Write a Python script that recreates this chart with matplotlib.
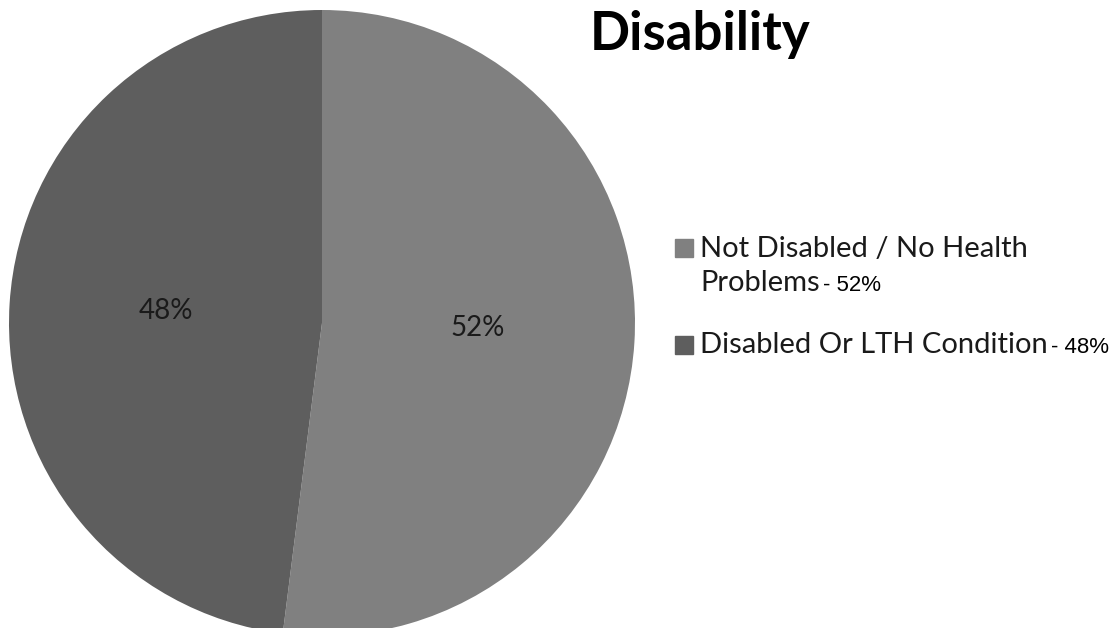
import matplotlib
matplotlib.use("Agg")
import matplotlib.pyplot as plt
from matplotlib.patches import Rectangle

# data
categories = ["Not Disabled / No Health\nProblems", "Disabled Or LTH Condition"]
shares = [52, 48]
colors = ["#808080", "#5e5e5e"]

W, H = 1118, 628
fig = plt.figure(figsize=(W / 100, H / 100), dpi=100)
fig.patch.set_facecolor("white")


def fx(px):
    return px / W


def fy(py):
    # py measured from the top of the image
    return 1 - py / H


# pie axes: centre (322, 323) px, radius 313 px
cx, cy, r = 322, 323, 313
ax = fig.add_axes([fx(cx - r), fy(cy + r), 2 * r / W, 2 * r / H])
ax.pie(shares, colors=colors, startangle=90, counterclock=False, radius=1,
       wedgeprops=dict(linewidth=0))
ax.set_xlim(-1, 1)
ax.set_ylim(-1, 1)
ax.set_aspect("equal")
ax.axis("off")

# percent labels inside the slices
label_pos = [(478, 328), (166, 311)]
for (px, py), v in zip(label_pos, shares):
    fig.text(fx(px), fy(py), f"{v}%", ha="center", va="center",
             fontsize=20, family="Lato", color="#1a1a1a")

# title
fig.text(fx(700), fy(50), "Disability", ha="center", va="baseline",
         fontsize=38, fontweight="bold", family="Lato", color="black")

# legend drawn by hand
sq_y = [239, 336]
base_y = [257, 353]
for name, v, c, sy, by in zip(categories, shares, colors, sq_y, base_y):
    fig.patches.append(Rectangle((fx(675), fy(sy + 18)), 18 / W, 18 / H,
                                 transform=fig.transFigure, color=c))
    lines = name.split("\n")
    for i, line in enumerate(lines):
        yb = by + i * 34
        t = fig.text(fx(700), fy(yb), line, ha="left", va="baseline",
                     fontsize=21, family="Lato", color="#1a1a1a")
    fig.canvas.draw()
    bb = t.get_window_extent()
    fig.text((bb.x1 + 3) / W, fy(by + (len(lines) - 1) * 34), f"- {v}%",
             ha="left", va="baseline", fontsize=16,
             family="Liberation Sans", color="black")

fig.savefig("out.png", dpi=100)
